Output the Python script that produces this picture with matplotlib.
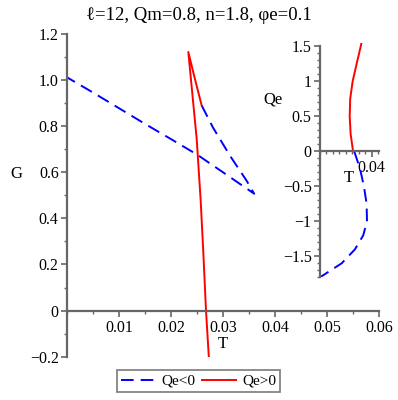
import matplotlib
matplotlib.use("Agg")
import matplotlib.pyplot as plt
from matplotlib.ticker import MultipleLocator, FixedLocator

plt.rcParams['font.family'] = ['Liberation Serif', 'DejaVu Serif']

# main plot: G vs T
# Qe<0 branch (blue dashed): from junction to cusp, then back to T=0
blue_T = [0.0259, 0.0281, 0.0314, 0.0345, 0.0360, 0.030, 0.025, 0.020, 0.015, 0.010, 0.005, 0.0]
blue_G = [0.890, 0.793, 0.670, 0.565, 0.507, 0.600, 0.677, 0.744, 0.810, 0.878, 0.946, 1.012]

# Qe>0 branch (red solid): short piece up to the tip, then steep line down
red_T = [0.0259, 0.02462, 0.02333, 0.02494, 0.0257, 0.02622, 0.02673, 0.0273]
red_G = [0.890, 1.003, 1.122, 0.745, 0.481, 0.25, 0.0, -0.211]

# inset: Qe vs T
inset_blue_T = [0.0265, 0.031, 0.034, 0.0361, 0.0364, 0.0335, 0.0271, 0.0168, 0.0]
inset_blue_Qe = [0.0, -0.25, -0.5, -0.75, -1.0, -1.2, -1.4, -1.6, -1.8]
inset_red_T = [0.0256, 0.0237, 0.0230, 0.0234, 0.0253, 0.0284, 0.0322]
inset_red_Qe = [0.0, 0.25, 0.5, 0.75, 1.0, 1.25, 1.55]

main_yticks = [-0.2, 0, 0.2, 0.4, 0.6, 0.8, 1.0, 1.2]
main_ylabels = ['\u22120.2', '0', '0.2', '0.4', '0.6', '0.8', '1.0', '1.2']
main_xticks = [0.01, 0.02, 0.03, 0.04, 0.05, 0.06]
main_xlabels = ['0.01', '0.02', '0.03', '0.04', '0.05', '0.06']
inset_yticks = [-1.5, -1, -0.5, 0, 0.5, 1, 1.5]
inset_ylabels = ['\u22121.5', '\u22121', '\u22120.5', '0', '0.5', '1', '1.5']

W, H = 398, 400
axis_col = '#666666'
dash = (6.5, 3.6)

fig = plt.figure(figsize=(W / 100, H / 100), dpi=100)


def px(x0, y0, x1, y1):
    return [x0 / W, 1 - y1 / H, (x1 - x0) / W, (y1 - y0) / H]


def style_axes(ax):
    ax.patch.set_alpha(0)
    ax.spines['top'].set_visible(False)
    ax.spines['right'].set_visible(False)
    ax.spines['left'].set_position(('data', 0))
    ax.spines['bottom'].set_position(('data', 0))
    for s in ('left', 'bottom'):
        ax.spines[s].set_color(axis_col)
        ax.spines[s].set_linewidth(1.6)
    ax.tick_params(which='major', direction='out', length=4, width=1.2, color=axis_col,
                   labelsize=11.5, pad=2)
    ax.tick_params(which='minor', direction='out', length=2.5, width=1.0, color=axis_col)


ax = fig.add_axes(px(67, 34, 379, 356.7))
style_axes(ax)
ax.plot(blue_T, blue_G, color='#0000ff', lw=1.4, dashes=dash, label='Qe<0')
ax.plot(red_T, red_G, color='#ff0000', lw=1.4, label='Qe>0')
ax.set_xlim(0, 0.06)
ax.set_ylim(-0.2, 1.2)
ax.set_yticks(main_yticks)
ax.set_yticklabels(main_ylabels)
ax.set_xticks(main_xticks)
ax.set_xticklabels(main_xlabels)
ax.yaxis.set_minor_locator(MultipleLocator(0.1))
ax.xaxis.set_minor_locator(MultipleLocator(0.005))
ax.tick_params(axis='x', which='major', pad=3)

fig.text(16 / W, 1 - 174 / H, 'G', fontsize=12, ha='center', va='center')
fig.text(223 / W, 1 - 344 / H, 'T', fontsize=12, ha='center', va='center')
fig.text(199 / W, 1 - 15 / H, '\u2113=12, Qm=0.8, n=1.8, \u03c6e=0.1', fontsize=13.5,
         ha='center', va='center')

leg = ax.legend(loc='center', bbox_to_anchor=(198.5 / W, 1 - 381 / H),
                bbox_transform=fig.transFigure, ncol=2, frameon=True, fancybox=False,
                fontsize=11, handlelength=2.2, columnspacing=0.45, handletextpad=0.45,
                borderpad=0.25, borderaxespad=0)
leg.get_frame().set_edgecolor(axis_col)
leg.get_frame().set_linewidth(1.3)

# inset
ins = fig.add_axes(px(320, 42.7, 379, 277.3))
style_axes(ins)
ins.plot(inset_blue_T, inset_blue_Qe, color='#0000ff', lw=1.4, dashes=dash)
ins.plot(inset_red_T, inset_red_Qe, color='#ff0000', lw=1.4)
ins.set_xlim(0, 0.0457)
ins.set_ylim(-1.8, 1.55)
ins.spines['left'].set_bounds(-1.8, 1.5)
ins.set_yticks(inset_yticks)
ins.set_yticklabels(inset_ylabels)
ins.yaxis.set_minor_locator(MultipleLocator(0.1))
ins.xaxis.set_major_locator(FixedLocator([0.04]))
ins.set_xticklabels(['0.04'])
ins.xaxis.set_minor_locator(MultipleLocator(0.005))
ins.tick_params(which='minor', length=2)

fig.text(273 / W, 1 - 100 / H, 'Qe', fontsize=12, ha='center', va='center')
fig.text(349 / W, 1 - 178 / H, 'T', fontsize=12, ha='center', va='center')

fig.savefig('out.png', dpi=100)
